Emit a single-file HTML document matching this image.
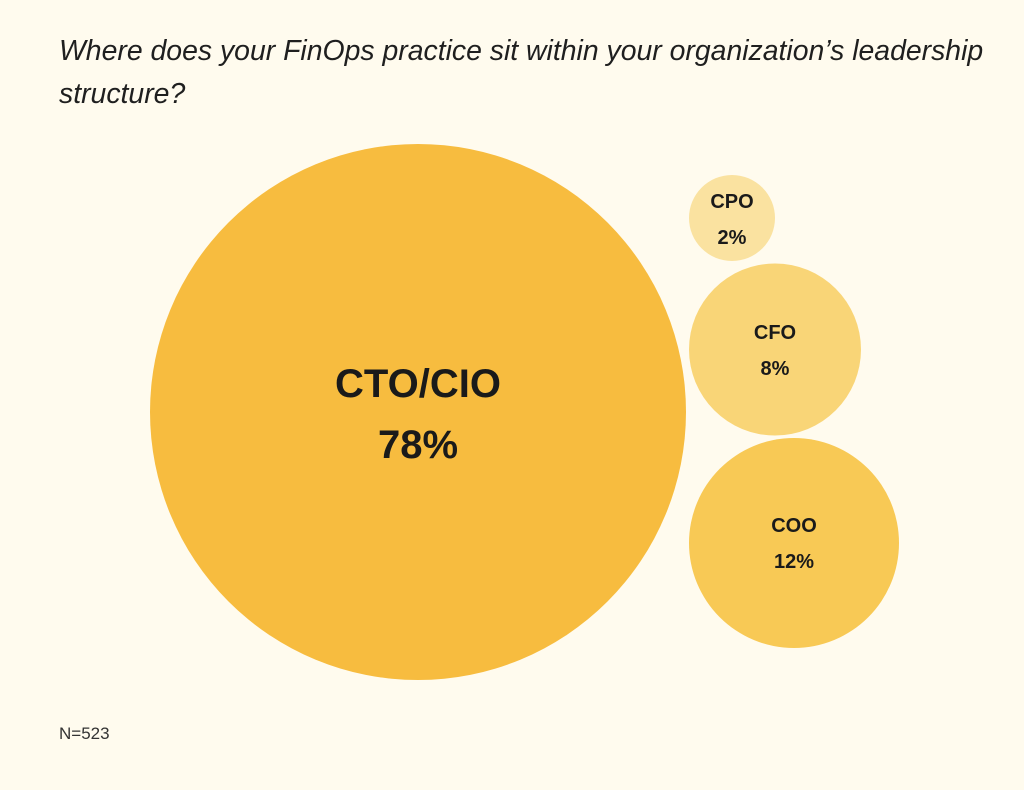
<!DOCTYPE html>
<html><head><meta charset="utf-8"><style>
html,body{margin:0;padding:0;background:#fffbee;}
body{width:1024px;height:790px;overflow:hidden;position:relative;font-family:"Liberation Sans",sans-serif;}
.t{position:absolute;left:59px;top:30px;font-size:28.4px;font-style:italic;color:#1f1f1f;line-height:43px;width:960px;white-space:nowrap;}
.n{position:absolute;left:59px;top:724px;font-size:17px;color:#333;}
</style></head><body>
<div class="t">Where does your FinOps practice sit within your organization’s leadership<br>structure?</div>
<svg width="1024" height="790" style="position:absolute;left:0;top:0">
<circle cx="418" cy="412" r="268" fill="#f7bc3f"/>
<circle cx="732" cy="218" r="43" fill="#fae2a0"/>
<circle cx="775" cy="349.5" r="86" fill="#f9d577"/>
<circle cx="794" cy="543" r="105" fill="#f8c955"/>
<g font-family="Liberation Sans, sans-serif" font-weight="bold" fill="#1a1a1a" text-anchor="middle">
<text x="418" y="397" font-size="40">CTO/CIO</text>
<text x="418" y="458" font-size="40">78%</text>
<text x="732" y="208" font-size="20">CPO</text>
<text x="732" y="244" font-size="20">2%</text>
<text x="775" y="339" font-size="20">CFO</text>
<text x="775" y="375" font-size="20">8%</text>
<text x="794" y="532" font-size="20">COO</text>
<text x="794" y="568" font-size="20">12%</text>
</g></svg>
<div class="n">N=523</div>
</body></html>
